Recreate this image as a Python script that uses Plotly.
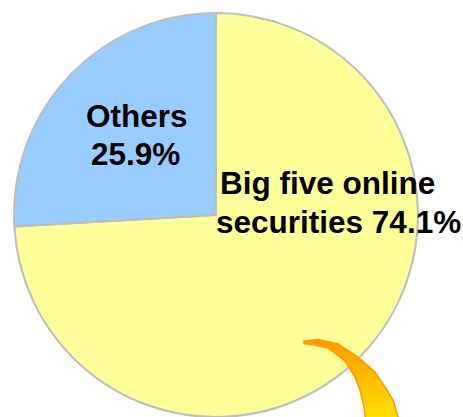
import plotly.graph_objects as go

W, H = 463, 417

# Data
labels = ["Big five online securities", "Others"]
values = [74.1, 25.9]
colors = ["#FFFF99", "#99CCFF"]

def px(x):
    return x / W

def py(y):
    return 1 - y / H

fig = go.Figure()
fig.add_trace(go.Pie(
    labels=labels, values=values, sort=False,
    direction="clockwise", rotation=0,
    marker=dict(colors=colors, line=dict(color="#BDBDBD", width=2)),
    textinfo="none", hoverinfo="label+percent", showlegend=False,
    domain=dict(x=[px(14), px(418)], y=[py(417), py(13)]),
))

# Decorative arrow (pixel outline), filled with a stepped gradient
upper = [(304, 341), (318, 339.5), (338, 344), (358, 357), (375, 372),
         (385, 387), (393, 400), (398, 417), (400, 422)]
lower = [(366, 422), (364, 407), (360, 390), (355, 377), (345, 361),
         (328, 348), (312, 344.5), (304, 343.5)]
poly = upper + lower

def clip(poly, y0, y1):
    def clip_edge(pts, keep, inter):
        out = []
        n = len(pts)
        for i in range(n):
            a, b = pts[i], pts[(i + 1) % n]
            ka, kb = keep(a), keep(b)
            if ka:
                out.append(a)
                if not kb:
                    out.append(inter(a, b))
            elif kb:
                out.append(inter(a, b))
        return out
    def inter_y(yv):
        def f(a, b):
            t = (yv - a[1]) / (b[1] - a[1])
            return (a[0] + t * (b[0] - a[0]), yv)
        return f
    p = clip_edge(poly, lambda q: q[1] >= y0, inter_y(y0))
    if not p:
        return p
    p = clip_edge(p, lambda q: q[1] <= y1, inter_y(y1))
    return p

def to_path(pts):
    return "M " + " L ".join(f"{px(x):.5f},{py(y):.5f}" for x, y in pts) + " Z"

c0 = (255, 153, 0)
c1 = (255, 228, 0)
ys0, ys1 = 339, 422
nb = 14
for i in range(nb):
    a = ys0 + (ys1 - ys0) * i / nb
    b = ys0 + (ys1 - ys0) * (i + 1) / nb + 0.6
    seg = clip(poly, a, b)
    if len(seg) < 3:
        continue
    t = (i + 0.5) / nb
    col = tuple(int(c0[k] + (c1[k] - c0[k]) * t) for k in range(3))
    fig.add_shape(type="path", xref="paper", yref="paper", path=to_path(seg),
                  fillcolor=f"rgb{col}", line=dict(width=0), layer="above")

fig.add_shape(type="path", xref="paper", yref="paper", path=to_path(poly),
              fillcolor="rgba(0,0,0,0)", line=dict(color="#FF9900", width=1.5),
              layer="above")

font = dict(family="Liberation Sans, Arial, sans-serif", size=31.5, color="black")

def label(text, x, y, anchor):
    fig.add_annotation(text=f"<b>{text}</b>", x=px(x), y=py(y), xref="paper", yref="paper",
                       xanchor=anchor, yanchor="middle", showarrow=False, font=font)

label("Others", 137, 116, "center")
label("25.9%", 135, 154, "center")
label("Big five online", 218, 183, "left")
label("securities 74.1%", 214, 222, "left")

fig.update_layout(width=W, height=H, margin=dict(l=0, r=0, t=0, b=0),
                  paper_bgcolor="white", plot_bgcolor="white")

fig.write_html("out.html")
